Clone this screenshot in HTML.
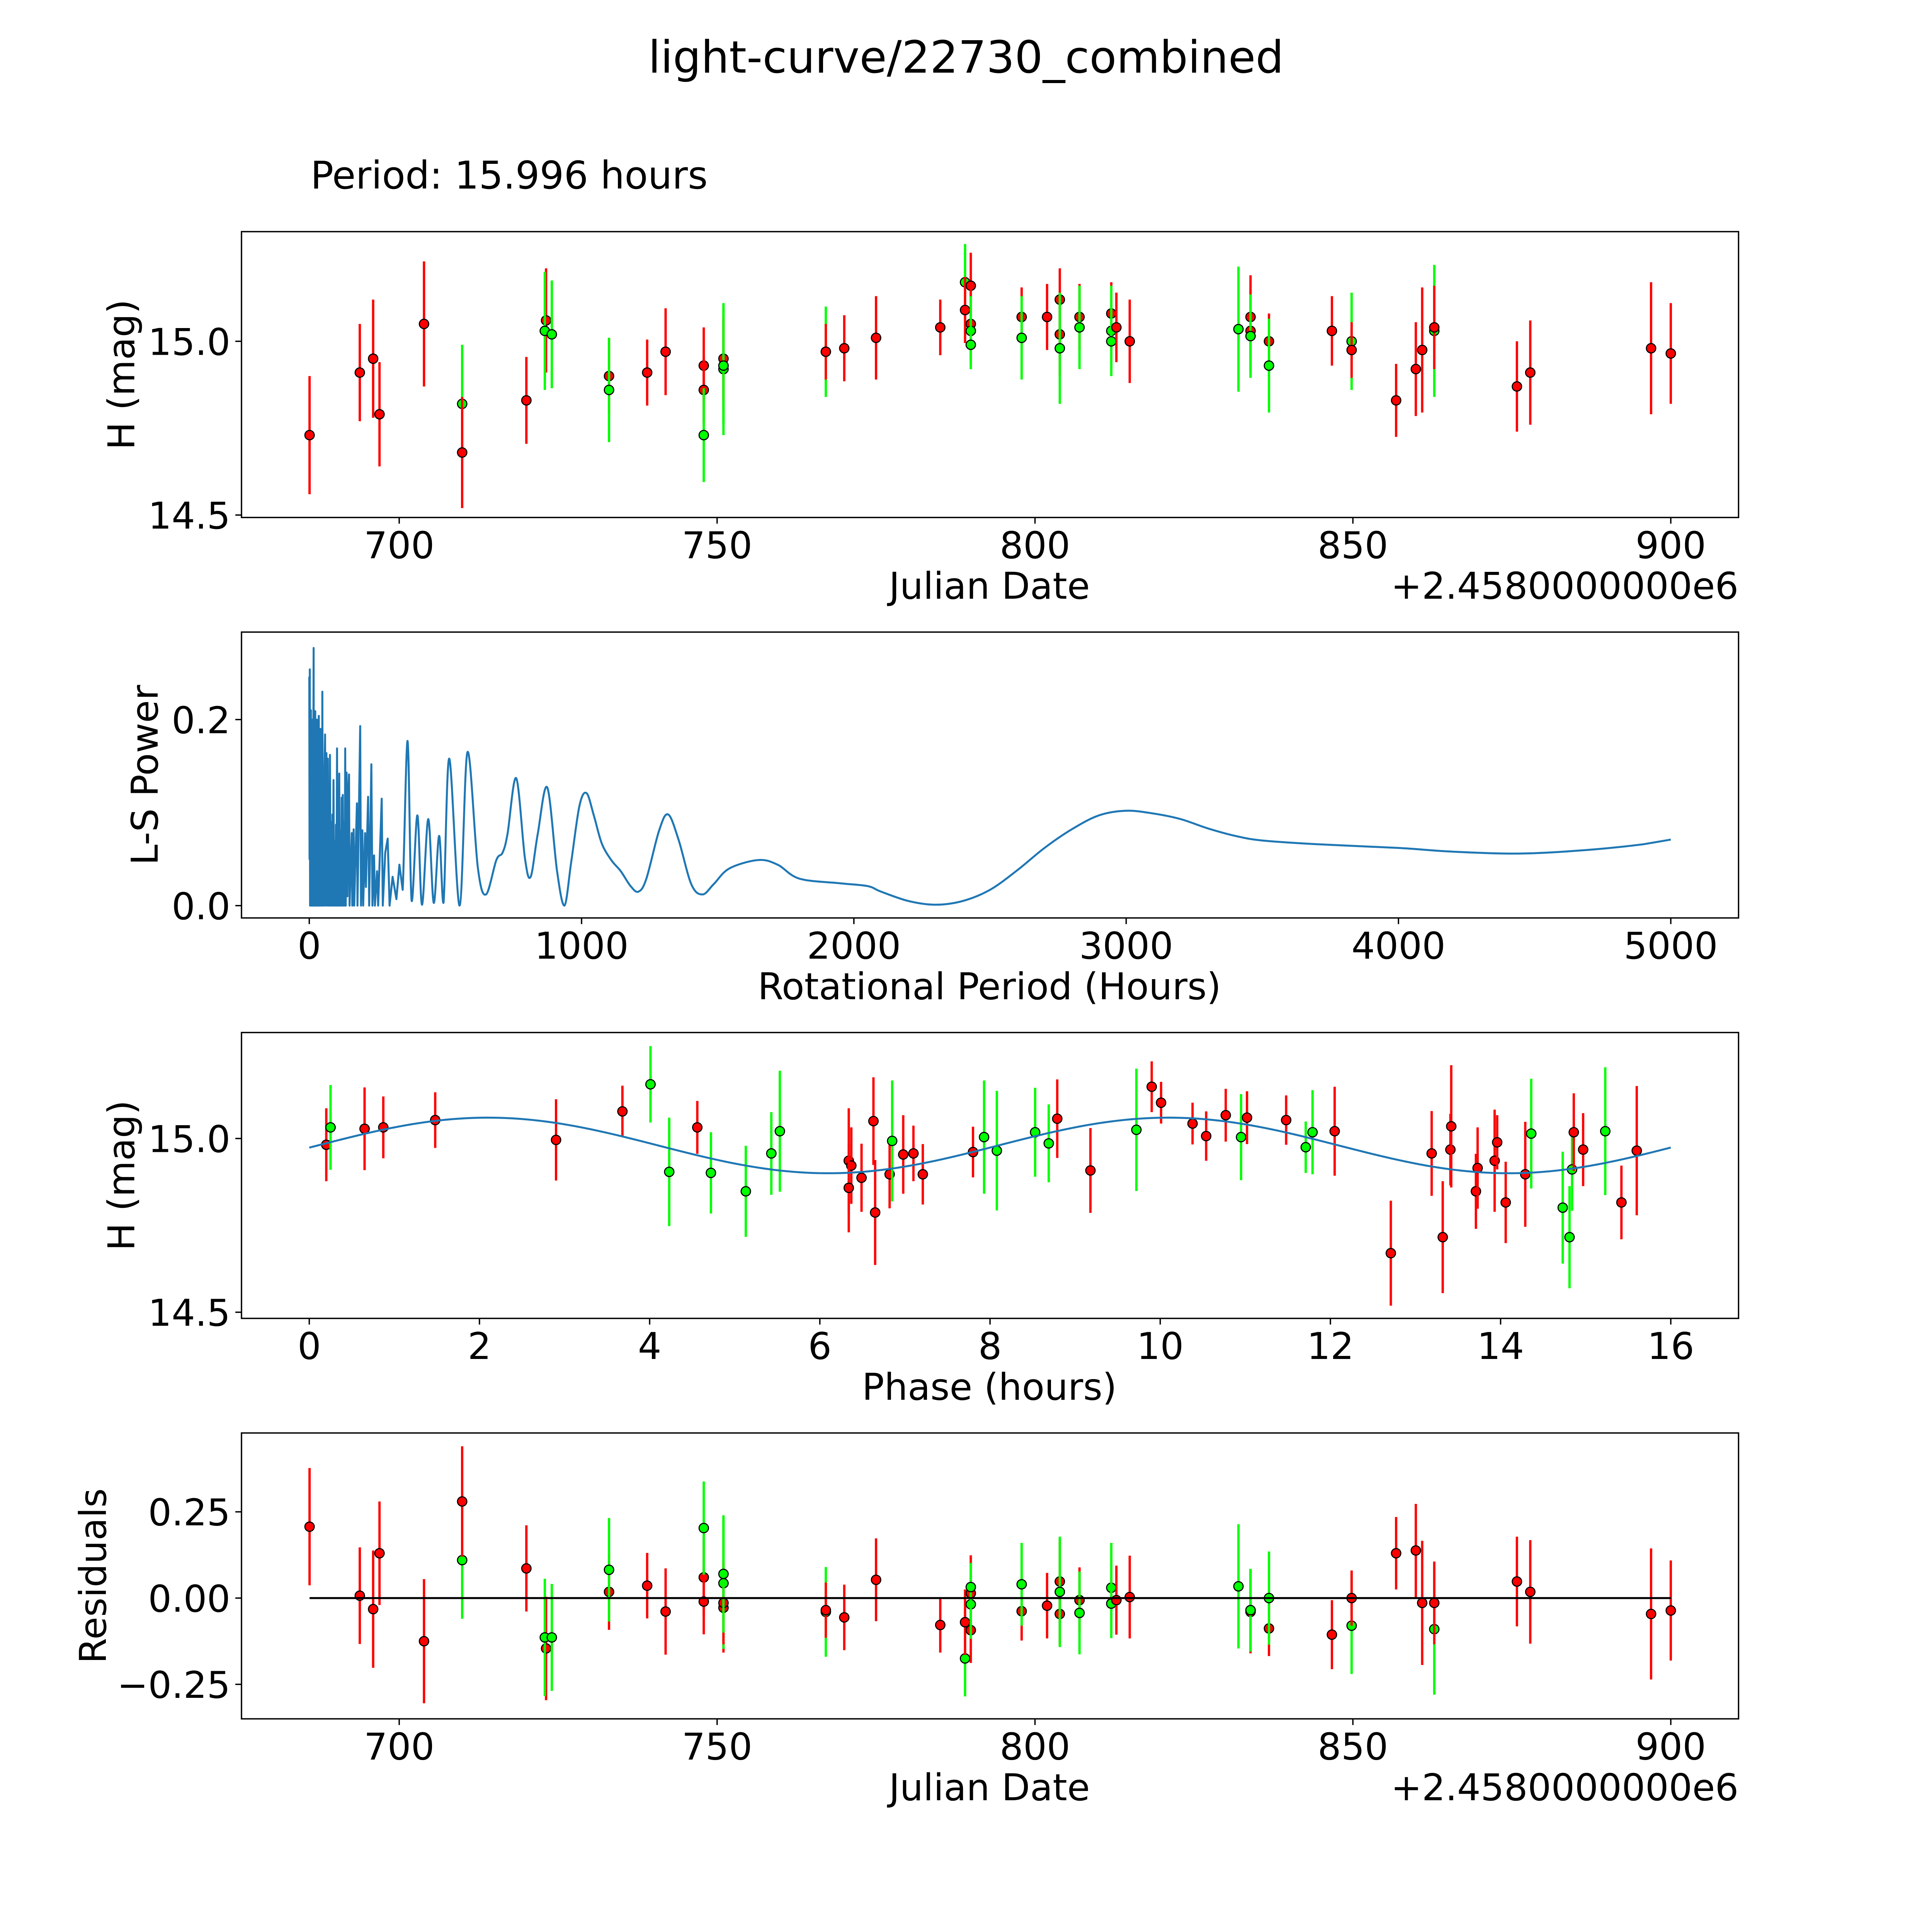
<!DOCTYPE html>
<html><head><meta charset="utf-8"><style>
html,body{margin:0;padding:0;background:#fff;width:100%;height:100%;overflow:hidden;}
svg{display:block;width:100vw;height:100vh;font-family:"DejaVu Sans","Liberation Sans",sans-serif;}
</style></head><body>
<svg id="fig" viewBox="0 0 1568 1568" preserveAspectRatio="xMidYMid meet" xmlns="http://www.w3.org/2000/svg">
<rect width="1568" height="1568" fill="#fff"/>
<text x="784" y="59" font-size="36" text-anchor="middle">light-curve/22730_combined</text>
<text x="252" y="153" font-size="31">Period: 15.996 hours</text>
</svg>
<script>
// ---- observation data (Julian Date offset from 2458000) ----
const dates = [685.9,693.8,695.9,696.9,703.9,709.9,709.9,720.0,723.1,722.9,724.0,733.0,733.0,739.0,741.9,747.9,747.9,747.9,751.0,751.0,751.0,751.0,767.1,767.1,770.0,775.0,785.1,789.0,789.0,789.9,789.9,789.9,789.9,797.9,797.9,801.9,803.9,803.9,803.9,807.0,807.0,812.0,812.0,812.0,812.8,814.9,832.0,833.9,833.9,833.9,836.8,836.8,846.7,849.8,849.8,856.8,859.9,860.9,862.8,862.8,875.8,877.9,896.9,900.0];
const mags = [14.73,14.91,14.95,14.79,15.05,14.82,14.68,14.83,15.06,15.03,15.02,14.90,14.86,14.91,14.97,14.93,14.86,14.73,14.93,14.92,14.95,14.93,14.97,14.97,14.98,15.01,15.04,15.17,15.09,15.16,15.05,15.03,14.99,15.07,15.01,15.07,15.12,15.02,14.98,15.07,15.04,15.08,15.03,15.0,15.04,15.0,15.035,15.07,15.03,15.015,15.0,14.93,15.03,15.0,14.975,14.83,14.92,14.975,15.03,15.04,14.87,14.91,14.98,14.965];
const magErr = [0.17,0.14,0.17,0.15,0.18,0.17,0.16,0.125,0.15,0.17,0.155,0.11,0.15,0.095,0.125,0.11,0.095,0.135,0.13,0.19,0.12,0.17,0.13,0.08,0.095,0.12,0.08,0.11,0.095,0.095,0.11,0.1,0.07,0.085,0.12,0.095,0.09,0.12,0.16,0.095,0.12,0.09,0.13,0.1,0.1,0.12,0.18,0.12,0.12,0.12,0.08,0.135,0.1,0.14,0.08,0.105,0.135,0.18,0.19,0.12,0.13,0.15,0.19,0.145];
const filters = ['r','r','r','r','r','g','r','r','r','g','g','r','g','r','r','r','r','g','r','g','r','g','g','r','r','r','r','g','r','r','r','g','g','r','g','r','r','r','g','r','g','r','g','g','r','r','g','r','r','g','r','g','r','g','r','r','r','r','g','r','r','r','r','r'];
const resid = [0.207,0.007,-0.032,0.13,-0.125,0.11,0.28,0.086,-0.146,-0.114,-0.114,0.018,0.082,0.036,-0.039,0.06,-0.01,0.203,-0.028,0.043,-0.014,0.07,-0.04,-0.035,-0.056,0.053,-0.078,-0.175,-0.07,-0.093,0.014,-0.018,0.032,-0.038,0.04,-0.022,-0.046,0.048,0.018,-0.006,-0.043,-0.016,0.03,-0.016,-0.006,0.003,0.034,-0.035,-0.04,-0.035,-0.088,0.0,-0.106,-0.08,0.0,0.13,0.138,-0.014,-0.09,-0.014,0.048,0.018,-0.046,-0.036];
// ---- phased data ----
const phases = [0.20,0.25,0.65,0.87,1.48,2.90,3.68,4.01,4.56,4.23,4.72,5.13,5.43,5.53,6.34,6.37,6.34,6.49,6.63,6.65,6.82,6.85,6.98,7.10,7.21,7.80,7.93,8.08,8.53,8.69,8.79,9.18,9.72,9.90,10.01,10.38,10.54,10.77,10.95,11.02,11.48,11.71,11.79,12.05,12.71,13.19,13.32,13.41,13.42,13.71,13.73,13.93,13.96,14.06,14.29,14.36,14.73,14.81,14.84,14.86,14.97,15.23,15.42,15.60];
const phaseMags = [14.982,15.032,15.028,15.032,15.053,14.996,15.078,15.156,15.032,14.904,14.901,14.848,14.957,15.021,14.936,14.922,14.858,14.887,15.05,14.787,14.897,14.993,14.954,14.957,14.897,14.961,15.004,14.965,15.018,14.986,15.057,14.908,15.025,15.149,15.103,15.043,15.007,15.067,15.004,15.06,15.053,14.975,15.018,15.021,14.67,14.957,14.716,14.968,15.035,14.848,14.915,14.936,14.989,14.816,14.897,15.014,14.801,14.716,14.911,15.018,14.968,15.021,14.816,14.965];
const phaseErr = [0.105,0.122,0.119,0.089,0.08,0.117,0.074,0.11,0.076,0.156,0.117,0.131,0.119,0.174,0.151,0.11,0.128,0.098,0.126,0.151,0.098,0.174,0.113,0.08,0.087,0.073,0.163,0.172,0.128,0.112,0.113,0.122,0.176,0.073,0.06,0.06,0.071,0.076,0.124,0.076,0.071,0.074,0.121,0.128,0.151,0.122,0.161,0.103,0.176,0.108,0.117,0.147,0.078,0.117,0.151,0.158,0.161,0.147,0.119,0.112,0.105,0.184,0.106,0.186];
const phaseFilters = ['r','g','r','r','r','r','r','g','r','g','g','g','g','g','r','r','r','r','r','r','r','g','r','r','r','r','g','g','g','g','r','r','g','r','r','r','r','r','g','r','r','g','g','r','r','r','r','r','r','r','r','r','r','r','r','g','g','g','g','r','r','g','r','r'];
// model fit parameters: mean magnitude, amplitude, phase shift (h), harmonic period (h)
const modelMean = [14.98];
const modelAmp = [0.08];
const modelShift = [0.1];
const modelHarmonic = [7.998];
// ---- periodogram ----
const lsPeriod = [0,1,2,3,4,5,6,7,8,9,10,11,12,13,14,15,16,17,18,19,20,21,22,23,24,25,26,27,28,29,30,31,32,33,34,35,36,37,38,39,40,41,43,45,47,48,50,52,54,56,58,60,62,63,65,67,68,70,72,74,76,78,80,83,85,87,89,91,93,96,98,100,102,104,106,108,110,112,115,117,119,121,123,125,127,130,132,134,137,140,143,146,148,156,158,163,165,175,177,187,190,195,198,205,208,216,220,228,232,238,241,249,253,266,270,279,288,295,306,320,331,343,361,376,397,414,437,457,477,493,514,552,581,619,649,687,710,728,760,792,813,839,874,910,937,962,992,1018,1045,1074,1109,1144,1180,1209,1238,1285,1318,1356,1403,1444,1485,1543,1649,1720,1800,1950,2050,2100,2200,2300,2400,2500,2600,2700,2800,2900,3000,3100,3200,3300,3400,3500,3700,4000,4200,4450,4700,4900,5000];
const lsPower = [0.246,0.05,0.254,0,0.18,0,0.21,0,0.15,0.172,0,0.2,0,0.19,0,0.16,0.277,0,0.17,0,0.205,0,0.209,0,0.15,0,0.19,0,0.2,0,0.17,0,0.18,0,0.16,0.204,0,0.15,0,0.17,0,0.19,0,0.14,0,0.23,0,0.13,0,0.15,0.184,0,0.12,0.164,0,0.1,0.158,0,0.13,0,0.162,0,0.09,0,0.098,0,0.135,0,0.07,0,0.087,0,0.169,0,0.11,0,0.142,0,0.08,0,0.116,0,0.119,0,0.09,0,0.169,0,0.143,0.01,0.12,0.141,0,0.078,0,0.082,0,0.11,0,0.193,0,0.081,0,0.078,0.02,0.117,0,0.152,0,0.054,0,0.037,0,0.115,0,0.057,0.072,0,0.031,0.007,0.044,0.017,0.177,0.005,0.097,0.001,0.093,0.003,0.075,0.003,0.158,0,0.165,0.041,0.012,0.049,0.057,0.077,0.137,0.051,0.031,0.077,0.127,0.037,0,0.047,0.107,0.121,0.097,0.067,0.049,0.037,0.021,0.015,0.029,0.081,0.098,0.071,0.023,0.012,0.023,0.040,0.049,0.044,0.029,0.024,0.021,0.015,0.005,0.001,0.005,0.017,0.038,0.062,0.082,0.097,0.102,0.099,0.093,0.083,0.075,0.07,0.066,0.062,0.058,0.056,0.06,0.066,0.071];
// ---- tick labels ----
const dateTicks = [700,750,800,850,900];
const magTicks = [15.0,14.5];
const lsXTicks = [0,1000,2000,3000,4000,5000];
const lsYTicks = [0.0,0.2];
const phaseTicks = [0,2,4,6,8,10,12,14,16];
const residTicks = [0.25,0.0,-0.25];

const NS='http://www.w3.org/2000/svg';
const svg=document.getElementById('fig');
const FS=30;
function mk(tag,attrs,parent){const e=document.createElementNS(NS,tag);for(const k in attrs)e.setAttribute(k,attrs[k]);(parent||svg).appendChild(e);return e;}
function lin(d0,d1,r0,r1){return v=>r0+(v-d0)*(r1-r0)/(d1-d0);}
const L=196,R=1411;
const colorOf=f=>f==='g'?'#00ff00':'#ff0000';
function fmtNum(v,dec){const s=Math.abs(v).toFixed(dec);return (v<0?'\u2212':'')+s;}

function panel(name,top,bottom){
  const g=mk('g',{});
  
  
  return {g,top,bottom};
}
function frame(p){
  const r=mk('rect',{x:L,y:p.top,width:R-L,height:p.bottom-p.top,fill:'none',stroke:'#000','stroke-width':1.1},p.g);
  
  
}
function xTicks(p,ticks,sx,dec){
  ticks.forEach(t=>{const x=sx(t);
    mk('line',{x1:x,x2:x,y1:p.bottom,y2:p.bottom+5,stroke:'#000','stroke-width':1.1},p.g);
    const tx=mk('text',{x:x,y:p.bottom+33,'font-size':FS,'text-anchor':'middle'},p.g);
    
    
    tx.textContent=fmtNum(t,dec);});
}
function yTicks(p,ticks,sy,dec){
  ticks.forEach(t=>{const y=sy(t);
    mk('line',{x1:L-5,x2:L,y1:y,y2:y,stroke:'#000','stroke-width':1.1},p.g);
    const tx=mk('text',{x:L-9,y:y+11,'font-size':FS,'text-anchor':'end'},p.g);
    
    
    tx.textContent=fmtNum(t,dec);});
}
function xLabel(p,txt,y){const t=mk('text',{x:803,y:y,'font-size':FS,'text-anchor':'middle'},p.g);
  
  
  t.textContent=txt;}
function yLabel(p,txt,x){const cy=(p.top+p.bottom)/2;const t=mk('text',{x:x,y:cy,'font-size':FS,'text-anchor':'middle',transform:`rotate(-90 ${x} ${cy})`},p.g);
  
  
  t.textContent=txt;}
function offsetLabel(p,y){const t=mk('text',{x:R,y:y,'font-size':FS,'text-anchor':'end'},p.g);
  
  
  t.textContent='+2.4580000000e6';}
function points(p,xs,ys,es,fs,sx,sy){
  xs.forEach((xv,i)=>{const x=sx(xv),y=sy(ys[i]);
    const eb=mk('line',{x1:x,x2:x,y1:sy(ys[i]+es[i]),y2:sy(ys[i]-es[i]),stroke:colorOf(fs[i]),'stroke-width':1.9},p.g);
    
    
    const c=mk('circle',{cx:x,cy:y,r:3.8,fill:colorOf(fs[i]),stroke:'#000','stroke-width':0.9},p.g);
    
    });
}

// Panel 1: light curve vs date
{const p=panel('light-curve-panel',188,420);
 const sx=lin(700,900,324,1356), sy=lin(15.0,14.5,277,418);
 points(p,dates,mags,magErr,filters,sx,sy);
 frame(p);xTicks(p,dateTicks,sx,0);yTicks(p,magTicks,sy,1);
 xLabel(p,'Julian Date',486);offsetLabel(p,486);yLabel(p,'H (mag)',109);}

// Panel 2: periodogram
{const p=panel('periodogram-panel',513,745);
 const sx=lin(0,5000,251,1356), sy=lin(0,0.2,735,584);
 const P=lsPeriod.map((h,i)=>[sx(h),sy(lsPower[i])]);
 let d='M'+P[0][0].toFixed(2)+','+P[0][1].toFixed(2);
 for(let i=1;i<P.length;i++){
   if(lsPeriod[i-1]>=340 && i>=2 && i<P.length-1){
     const p0=P[i-2],p1=P[i-1],p2=P[i],p3=P[i+1];
     const c1=[p1[0]+(p2[0]-p0[0])/6,p1[1]+(p2[1]-p0[1])/6];
     const c2=[p2[0]-(p3[0]-p1[0])/6,p2[1]-(p3[1]-p1[1])/6];
     d+=` C${c1[0].toFixed(2)},${Math.min(c1[1],735).toFixed(2)} ${c2[0].toFixed(2)},${Math.min(c2[1],735).toFixed(2)} ${p2[0].toFixed(2)},${p2[1].toFixed(2)}`;
   } else d+=` L${P[i][0].toFixed(2)},${P[i][1].toFixed(2)}`;
 }
 const pl=mk('path',{d:d,fill:'none',stroke:'#1f77b4','stroke-width':1.6,'stroke-linejoin':'round'},p.g);
 
 
 frame(p);xTicks(p,lsXTicks,sx,0);yTicks(p,lsYTicks,sy,1);
 xLabel(p,'Rotational Period (Hours)',811);yLabel(p,'L-S Power',128);}

// Panel 3: phased light curve
{const p=panel('phased-curve-panel',838,1070);
 const sx=lin(0,16,251,1356), sy=lin(15.0,14.5,924,1065);
 const n=200;const arr=[];
 for(let i=0;i<=n;i++){const ph=16*i/n;const m=modelMean[0]+modelAmp[0]*Math.sin(2*Math.PI*(ph-modelShift[0])/modelHarmonic[0]);arr.push(sx(ph).toFixed(2)+','+sy(m).toFixed(2));}
 points(p,phases,phaseMags,phaseErr,phaseFilters,sx,sy);
 const pl=mk('polyline',{points:arr.join(' '),fill:'none',stroke:'#1f77b4','stroke-width':1.6},p.g);
 
 
 frame(p);xTicks(p,phaseTicks,sx,0);yTicks(p,magTicks,sy,1);
 xLabel(p,'Phase (hours)',1136);yLabel(p,'H (mag)',109);}

// Panel 4: residuals
{const p=panel('residuals-panel',1163,1395);
 const sx=lin(700,900,324,1356), sy=lin(0,0.25,1297,1227);
 points(p,dates,resid,magErr,filters,sx,sy);
 const zl=mk('line',{x1:sx(Math.min(...dates)),x2:sx(Math.max(...dates)),y1:sy(0),y2:sy(0),stroke:'#000','stroke-width':1.6},p.g);
 
 
 frame(p);xTicks(p,dateTicks,sx,0);yTicks(p,residTicks,sy,2);
 xLabel(p,'Julian Date',1461);offsetLabel(p,1461);yLabel(p,'Residuals',86);}
</script>
</body></html>
